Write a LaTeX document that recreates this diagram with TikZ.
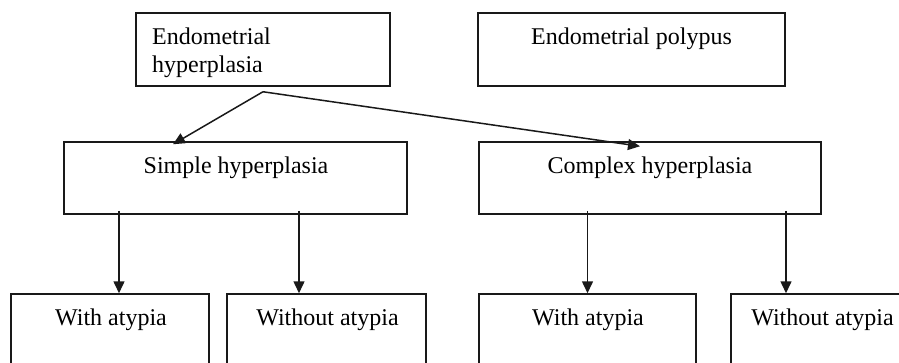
\documentclass[tikz,border=0pt]{standalone}
\usepackage{fontspec}
\setmainfont{Liberation Serif}
\usetikzlibrary{arrows.meta}
\begin{document}
\begin{tikzpicture}[x=1pt,y=1pt,
  box/.style={draw=black!90, line width=1.5pt, minimum width=#1, inner sep=0pt},
  txt/.style={font=\fontsize{24}{28}\selectfont, anchor=base, inner sep=0pt},
  conn/.style={draw=black!90, line width=1.5pt, -{Triangle[length=12pt,width=11pt]}}]
\useasboundingbox (0,0) rectangle (899,-362);
\clip (0,0) rectangle (899,-362);
% top row
\node[box=254pt, minimum height=73pt] (h) at (263,-49.5) {};
\node[box=307pt, minimum height=73pt] (p) at (631.5,-49.5) {};
% middle row
\node[box=343pt, minimum height=72pt] (s) at (235.5,-178) {};
\node[box=342pt, minimum height=72pt] (c) at (650,-178) {};
% bottom row
\node[box=198pt, minimum height=86pt] (a) at (110,-337) {};
\node[box=199pt, minimum height=86pt] (b) at (326.5,-337) {};
\node[box=217pt, minimum height=86pt] (e) at (587.5,-337) {};
\node[box=183pt, minimum height=86pt] (d) at (822.5,-337) {};
% texts
\node[txt, anchor=base west] (ht1) at (152,-44) {Endometrial};
\node[txt, anchor=base west] (ht2) at (152,-72) {hyperplasia};
\node[txt] (pt) at (631.5,-44) {Endometrial polypus};
\node[txt] (st) at (236,-173) {Simple hyperplasia};
\node[txt] (ct) at (650,-173) {Complex hyperplasia};
\node[txt] (at) at (111,-325) {With atypia};
\node[txt] (bt) at (327.5,-325) {Without atypia};
\node[txt] (et) at (588,-325) {With atypia};
\node[txt] (dt) at (822.5,-325) {Without atypia};
% connectors
\coordinate (hs) at ([yshift=-5pt]h.south);
\draw[conn] (hs) -- ([xshift=-62.5pt,yshift=-3pt]s.north);
\draw[conn] (hs) -- ([xshift=-10pt,yshift=-5pt]c.north);
\coordinate (sb) at ([yshift=4pt]s.south);
\coordinate (cb) at ([yshift=4pt]c.south);
\coordinate (an) at ([xshift=9pt]a.north);
\coordinate (bn) at ([xshift=-27.5pt]b.north);
\coordinate (dn) at ([xshift=-36.5pt]d.north);
\draw[conn] (sb -| an) -- (an);
\draw[conn] (sb -| bn) -- (bn);
\draw[conn] (cb -| e.north) -- (e.north);
\draw[conn] (cb -| dn) -- (dn);
\end{tikzpicture}
\end{document}
